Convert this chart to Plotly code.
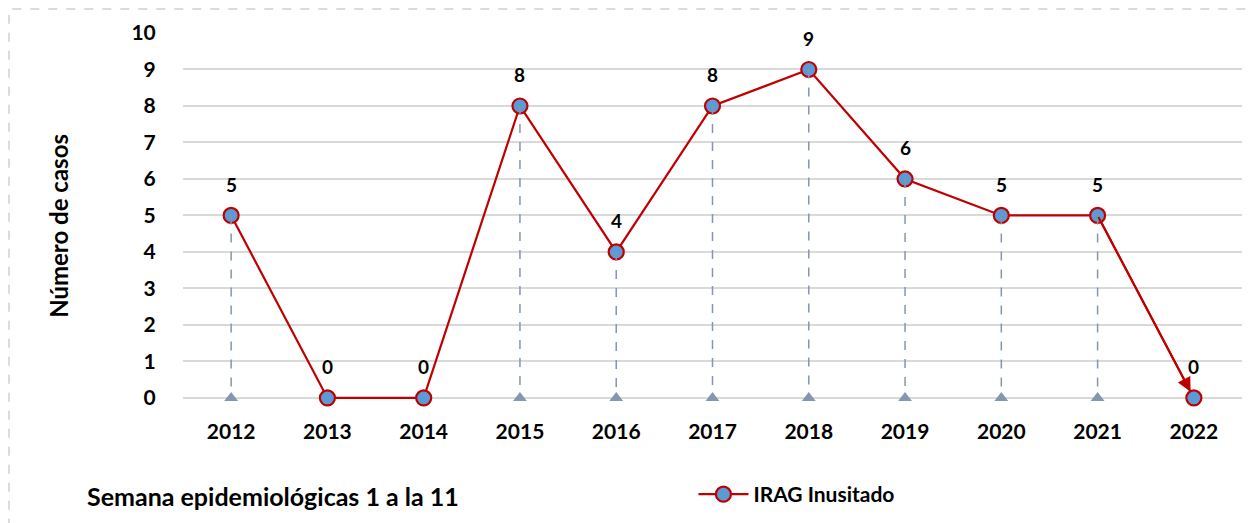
import plotly.graph_objects as go

years = [2012, 2013, 2014, 2015, 2016, 2017, 2018, 2019, 2020, 2021, 2022]
casos = [5, 0, 0, 8, 4, 8, 9, 6, 5, 5, 0]
y_ticks = list(range(0, 11))
series_name = "IRAG Inusitado"
x_title = "Semana epidemiológicas 1 a la 11"
y_title = "Número de casos"

FONT = "Lato"
RED = "#C00000"
BLUE = "#5B9BD5"
DROP = "#8496B0"

fig = go.Figure()

# base triangles
fig.add_trace(go.Scatter(x=years, y=[0] * len(years), mode="markers", showlegend=False,
                         hoverinfo="skip", cliponaxis=False,
                         marker=dict(symbol="triangle-up", size=12, color=DROP)))

# main series
fig.add_trace(go.Scatter(x=years, y=casos, mode="lines+markers", name=f"<b>{series_name}</b>",
                         cliponaxis=False,
                         line=dict(color=RED, width=2.2),
                         marker=dict(symbol="circle", size=15, color=BLUE,
                                     line=dict(color=RED, width=2.2))))

# drop lines (drawn on top, as in the reference)
dx, dy = [], []
for x, v in zip(years, casos):
    dx += [x, x, None]
    dy += [v, 0, None]
fig.add_trace(go.Scatter(x=dx, y=dy, mode="lines", showlegend=False, hoverinfo="skip",
                         line=dict(color=DROP, width=1.5, dash="dash")))

# arrow on last segment
fig.add_annotation(x=years[-1], y=casos[-1], ax=years[-2], ay=casos[-2],
                   xref="x", yref="y", axref="x", ayref="y", text="",
                   showarrow=True, arrowhead=2, arrowsize=1.4, arrowwidth=2,
                   arrowcolor=RED, standoff=7)

# data labels
for x, v in zip(years, casos):
    fig.add_annotation(x=x, y=v, text=f"<b>{v}</b>", showarrow=False, yshift=31,
                       font=dict(family=FONT, size=19, color="black"))

# axis titles / notes
fig.add_annotation(xref="paper", yref="paper", x=-0.1333, y=0.474, text=f"<b>{y_title}</b>",
                   textangle=-90, showarrow=False, font=dict(family=FONT, size=24, color="black"))
fig.add_annotation(xref="paper", yref="paper", x=-0.0925, y=-0.312, xanchor="left",
                   text=f"<b>{x_title}</b>", showarrow=False,
                   font=dict(family=FONT, size=25, color="black"))

# dashed outer border
fig.add_shape(type="rect", xref="paper", yref="paper", x0=-0.1643, x1=1.05, y0=-0.4, y1=1.0656,
              line=dict(color="#D0D0D0", width=1.5, dash="dash"), layer="below")

fig.update_layout(
    width=1258, height=523,
    margin=dict(l=175, r=24, t=25, b=132),
    plot_bgcolor="white", paper_bgcolor="white",
    font=dict(family=FONT, color="black"),
    showlegend=True,
    legend=dict(x=0.482, y=-0.205, xanchor="left", yanchor="top", orientation="h",
                font=dict(family=FONT, size=21, color="black"), itemwidth=50),
    xaxis=dict(range=[years[0] - 0.5, years[-1] + 0.5], tickvals=years,
               ticktext=[f"<b>{y}</b>" for y in years], showgrid=False, zeroline=False,
               ticks="outside", ticklen=14, tickcolor="rgba(0,0,0,0)",
               tickfont=dict(family=FONT, size=21, color="black")),
    yaxis=dict(range=[-0.03, 10], tickvals=y_ticks, ticktext=[f"<b>{t}</b>" for t in y_ticks],
               showgrid=True, gridcolor="#D9D9D9", gridwidth=2, zeroline=False,
               ticks="outside", ticklen=22, tickcolor="rgba(0,0,0,0)",
               tickfont=dict(family=FONT, size=21, color="black")),
)

fig.write_html("out.html")
